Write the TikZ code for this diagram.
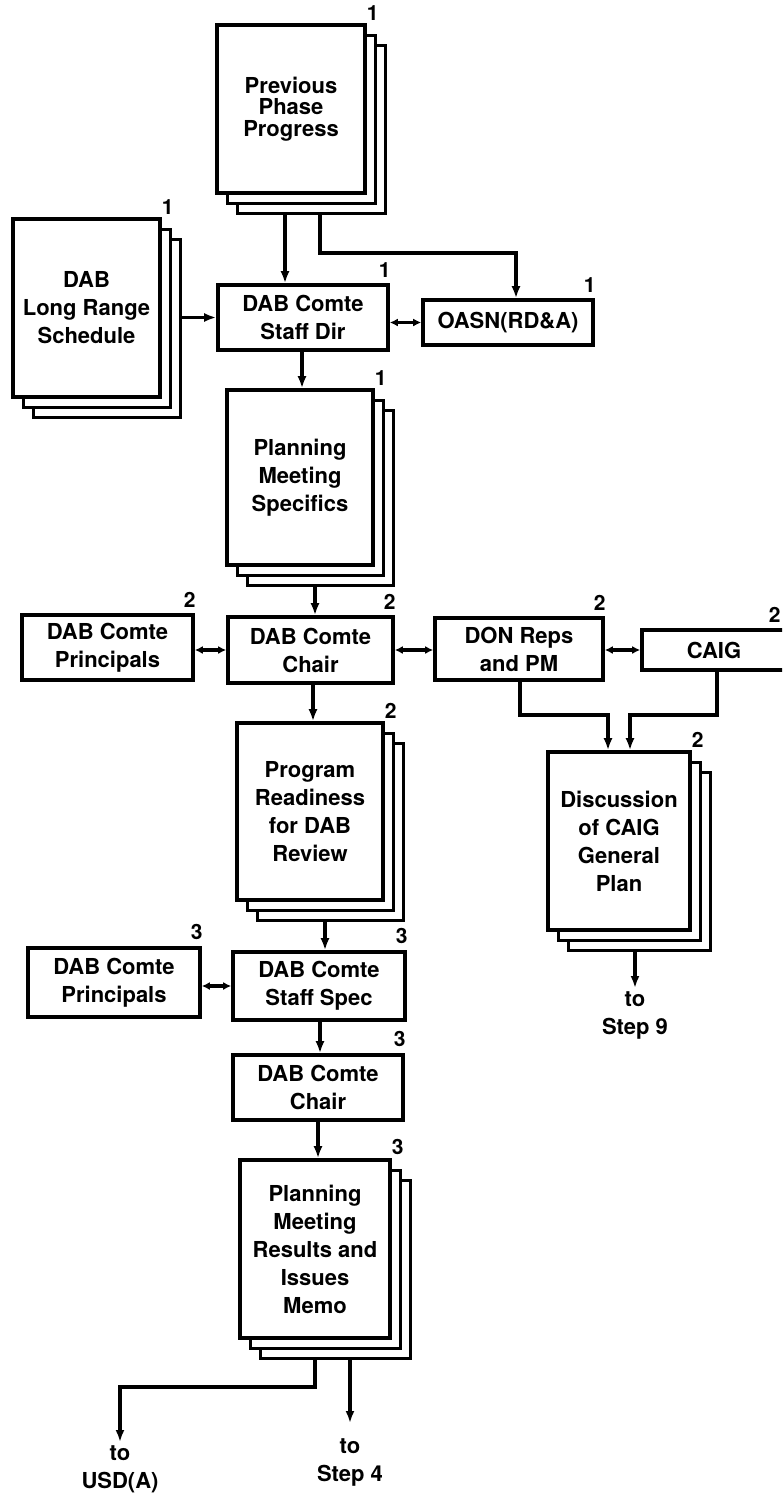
\documentclass[tikz,border=0pt]{standalone}
\usepackage{fontspec}
\setmainfont{TeX Gyre Heros}
\usetikzlibrary{arrows.meta,shadows,backgrounds}

\begin{document}
\begin{tikzpicture}[x=1pt,y=-1pt]
\tikzstyle{every node}=[font=\bfseries\fontsize{22}{28}\selectfont,align=center,inner sep=0pt];
\tikzstyle{box}=[draw,line width=3.6pt,fill=white];
\tikzstyle{doc}=[box,copy shadow={shadow xshift=20pt,shadow yshift=-20pt,draw=black,fill=white,line width=3pt},copy shadow={shadow xshift=10pt,shadow yshift=-10pt,draw=black,fill=white,line width=3pt}];
\tikzstyle{dnum}=[font=\bfseries\fontsize{21}{21}\selectfont,anchor=south,xshift=6pt,yshift=3pt];
\tikzstyle{bnum}=[font=\bfseries\fontsize{21}{21}\selectfont,anchor=south,xshift=-5pt,yshift=6pt];
\tikzstyle{dest}=[anchor=north,inner sep=3pt];
\tikzstyle{link}=[line width=3.2pt,-{Latex[length=12pt,width=9pt]}];
\tikzstyle{both}=[line width=3.2pt,{Latex[length=8pt,width=8pt]}-{Latex[length=8pt,width=8pt]}];
\useasboundingbox (0,0) rectangle (782,1499);
\clip (0,0) rectangle (782,1499);

\node[doc,minimum width=148pt,minimum height=168pt,font=\bfseries\fontsize{22}{21.5}\selectfont,label={[dnum]north east:1}] (ppp) at (291,109) {Previous\\Phase\\Progress};
\node[doc,minimum width=147pt,minimum height=178pt,label={[dnum]north east:1}] (lrs) at (86.5,308) {DAB\\Long Range\\Schedule};
\node[box,minimum width=170pt,minimum height=65pt,label={[bnum]north east:1}] (staffdir) at (303,317.5) {DAB Comte\\Staff Dir};
\node[box,minimum width=170pt,minimum height=45pt,label={[bnum]north east:1}] (oasn) at (508,322.5) {OASN(RD\&A)};
\node[doc,minimum width=146pt,minimum height=175pt,label={[dnum]north east:1}] (pms) at (300,477.5) {Planning\\Meeting\\Specifics};

\node[box,minimum width=171pt,minimum height=65pt,label={[bnum]north east:2}] (prin2) at (107.5,647.5) {DAB Comte\\Principals};
\node[box,minimum width=165pt,minimum height=66pt,label={[bnum]north east:2}] (chair2) at (310.5,650) {DAB Comte\\Chair};
\node[box,minimum width=168pt,minimum height=62pt,label={[bnum]north east:2}] (don) at (519,649) {DON Reps\\and PM};
\node[box,minimum width=144pt,minimum height=40pt,label={[bnum,xshift=-8pt]north east:2}] (caig) at (714,650) {CAIG};
\node[doc,minimum width=142pt,minimum height=178pt,label={[dnum]north east:2}] (disc) at (619,841) {Discussion\\of CAIG\\General\\Plan};
\node[doc,minimum width=146pt,minimum height=177pt,label={[dnum]north east:2}] (pr) at (310,811.5) {Program\\Readiness\\for DAB\\Review};

\node[box,minimum width=172pt,minimum height=69pt,label={[bnum]north east:3}] (prin3) at (114,982.5) {DAB Comte\\Principals};
\node[box,minimum width=172pt,minimum height=68pt,label={[bnum]north east:3}] (spec) at (319,986) {DAB Comte\\Staff Spec};
\node[box,minimum width=170pt,minimum height=65pt,label={[bnum]north east:3}] (chair3) at (318,1087.5) {DAB Comte\\Chair};
\node[doc,minimum width=150pt,minimum height=178pt,label={[dnum]north east:3}] (pmr) at (315,1249) {Planning\\Meeting\\Results and\\Issues\\Memo};

\node[dest] (step9) at (635,988) {to\\Step 9};
\node[dest] (usd) at (120,1442) {to\\USD(A)};
\node[dest] (step4) at (350,1435) {to\\Step 4};

\begin{scope}[on background layer]
\draw[link] (ppp.south -| 285,0) -- (staffdir.north -| 285,0);
\draw[link] (ppp.south -| 320,0) |- (516,253) -- (oasn.north -| 516,0);
\draw[link] (lrs.east |- staffdir.west) -- (staffdir.west);
\draw[both] (staffdir.east |- oasn.west) -- (oasn.west);
\draw[link] (staffdir.south -| 302,0) -- (pms.north -| 302,0);
\draw[link] (pms.south -| 315,0) -- (chair2.north -| 315,0);
\draw[both] (prin2.east |- chair2.west) -- (chair2.west);
\draw[both] (chair2.east) -- (don.west |- chair2.east);
\draw[both] (don.east |- caig.west) -- (caig.west);
\draw[link] (don.south -| 520,0) |- (608,715) -- (disc.north -| 608,0);
\draw[link] (caig.south -| 717,0) |- (630,715) -- (disc.north -| 630,0);
\draw[link] (chair2.south -| 313,0) -- (pr.north -| 313,0);
\draw[link] (pr.south -| 325,0) -- (spec.north -| 325,0);
\draw[both] (prin3.east |- spec.west) -- (spec.west);
\draw[link] (spec.south -| 320,0) -- (chair3.north -| 320,0);
\draw[link] (chair3.south -| 318,0) -- (pmr.north -| 318,0);
\draw[link] (disc.south -| 635,0) -- (step9);
\draw[link] (pmr.south -| 315,0) |- (120,1387) -- (usd);
\draw[link] (pmr.south -| 350,0) -- ([yshift=12pt]step4.north);
\end{scope}
\end{tikzpicture}
\end{document}
